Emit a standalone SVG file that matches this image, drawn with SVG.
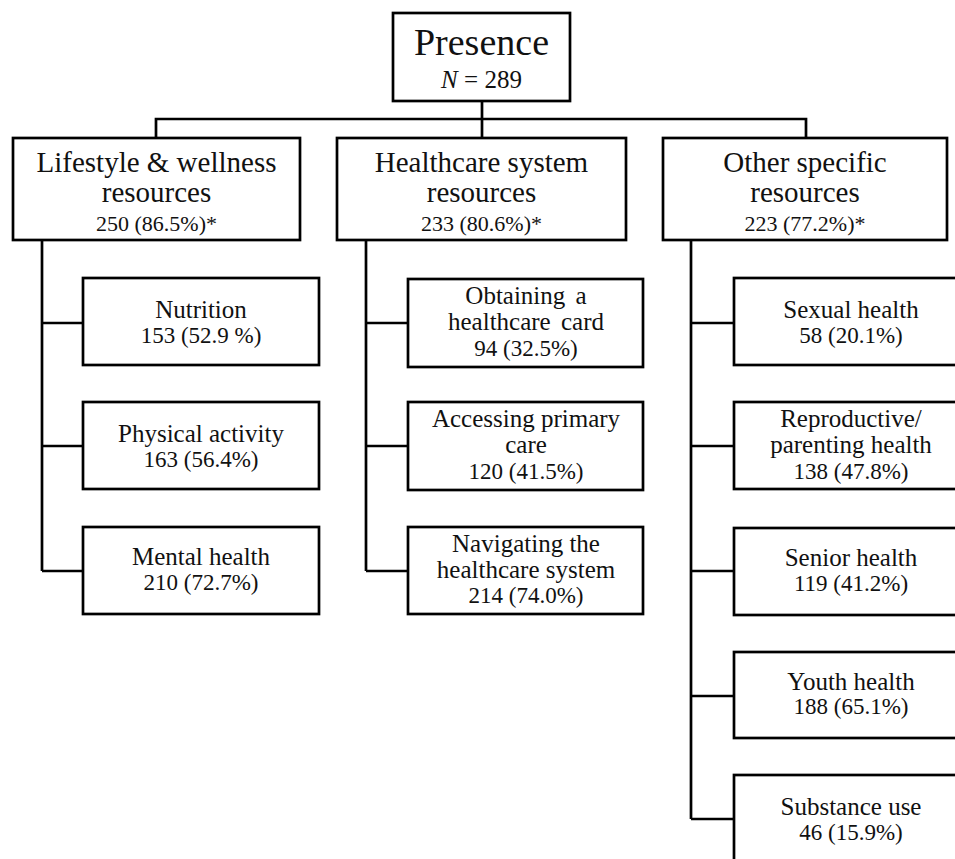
<svg xmlns="http://www.w3.org/2000/svg" width="955" height="859" viewBox="0 0 955 859">
<style>
.box{fill:#fff;stroke:#000;stroke-width:2.7}
.ln{fill:none;stroke:#000;stroke-width:2.7}
text{font-family:"Liberation Serif","Times New Roman",serif;fill:#111;text-anchor:middle}
.t0{font-size:38px}
.n0{font-size:25px}
.t1{font-size:29px}
.c1{font-size:22px}
.t2{font-size:25px}
.c2{font-size:23px}
</style>
<rect width="955" height="859" fill="#fff"/>
<g id="connectors">
<path class="ln" d="M156,138V119H806V138M482,101V138"/>
<path class="ln" d="M42,240V571M42,323H83M42,446H83M42,571H83"/>
<path class="ln" d="M366,240V571M366,323H408M366,446H408M366,571H408"/>
<path class="ln" d="M691,240V819M691,323H734M691,446H734M691,571H734M691,696H734M691,819H734"/>
</g>
<g id="presence">
<rect class="box" x="393" y="13" width="177" height="88"/>
<text class="t0" x="481.5" y="55">Presence</text>
<text class="n0" x="481.5" y="88"><tspan font-style="italic">N</tspan> = 289</text>
</g>
<g id="lifestyle">
<rect class="box" x="13" y="138" width="287" height="102"/>
<text class="t1" x="156.5" y="172">Lifestyle &amp; wellness</text>
<text class="t1" x="156.5" y="202">resources</text>
<text class="c1" x="156.5" y="231">250 (86.5%)*</text>
</g>
<g id="healthcare">
<rect class="box" x="337" y="138" width="289" height="102"/>
<text class="t1" x="481.5" y="172">Healthcare system</text>
<text class="t1" x="481.5" y="202">resources</text>
<text class="c1" x="481.5" y="231">233 (80.6%)*</text>
</g>
<g id="other">
<rect class="box" x="663" y="138" width="284" height="102"/>
<text class="t1" x="805" y="172">Other specific</text>
<text class="t1" x="805" y="202">resources</text>
<text class="c1" x="805" y="231">223 (77.2%)*</text>
</g>
<g id="nutrition">
<rect class="box" x="83" y="278" width="236" height="87"/>
<text class="t2" x="201" y="318">Nutrition</text>
<text class="c2" x="201" y="343">153 (52.9 %)</text>
</g>
<g id="physical">
<rect class="box" x="83" y="402" width="236" height="87"/>
<text class="t2" x="201" y="442">Physical activity</text>
<text class="c2" x="201" y="467">163 (56.4%)</text>
</g>
<g id="mental">
<rect class="box" x="83" y="527" width="236" height="87"/>
<text class="t2" x="201" y="565">Mental health</text>
<text class="c2" x="201" y="590">210 (72.7%)</text>
</g>
<g id="card">
<rect class="box" x="408" y="279" width="235" height="88"/>
<text class="t2" x="526" y="304" word-spacing="4">Obtaining a</text>
<text class="t2" x="526" y="330" word-spacing="4">healthcare card</text>
<text class="c2" x="526" y="356">94 (32.5%)</text>
</g>
<g id="primary">
<rect class="box" x="408" y="402" width="235" height="88"/>
<text class="t2" x="526" y="427">Accessing primary</text>
<text class="t2" x="526" y="453">care</text>
<text class="c2" x="526" y="479">120 (41.5%)</text>
</g>
<g id="navigating">
<rect class="box" x="408" y="527" width="235" height="87"/>
<text class="t2" x="526" y="552">Navigating the</text>
<text class="t2" x="526" y="578">healthcare system</text>
<text class="c2" x="526" y="603">214 (74.0%)</text>
</g>
<g id="sexual">
<rect class="box" x="734" y="278" width="240" height="87"/>
<text class="t2" x="851" y="318">Sexual health</text>
<text class="c2" x="851" y="343">58 (20.1%)</text>
</g>
<g id="reproductive">
<rect class="box" x="734" y="402" width="240" height="87"/>
<text class="t2" x="851" y="427">Reproductive/</text>
<text class="t2" x="851" y="453">parenting health</text>
<text class="c2" x="851" y="479">138 (47.8%)</text>
</g>
<g id="senior">
<rect class="box" x="734" y="528" width="240" height="87"/>
<text class="t2" x="851" y="566">Senior health</text>
<text class="c2" x="851" y="591">119 (41.2%)</text>
</g>
<g id="youth">
<rect class="box" x="734" y="652" width="240" height="86"/>
<text class="t2" x="851" y="690">Youth health</text>
<text class="c2" x="851" y="714">188 (65.1%)</text>
</g>
<g id="substance">
<rect class="box" x="734" y="775" width="240" height="100"/>
<text class="t2" x="851" y="815">Substance use</text>
<text class="c2" x="851" y="840">46 (15.9%)</text>
</g>
</svg>
